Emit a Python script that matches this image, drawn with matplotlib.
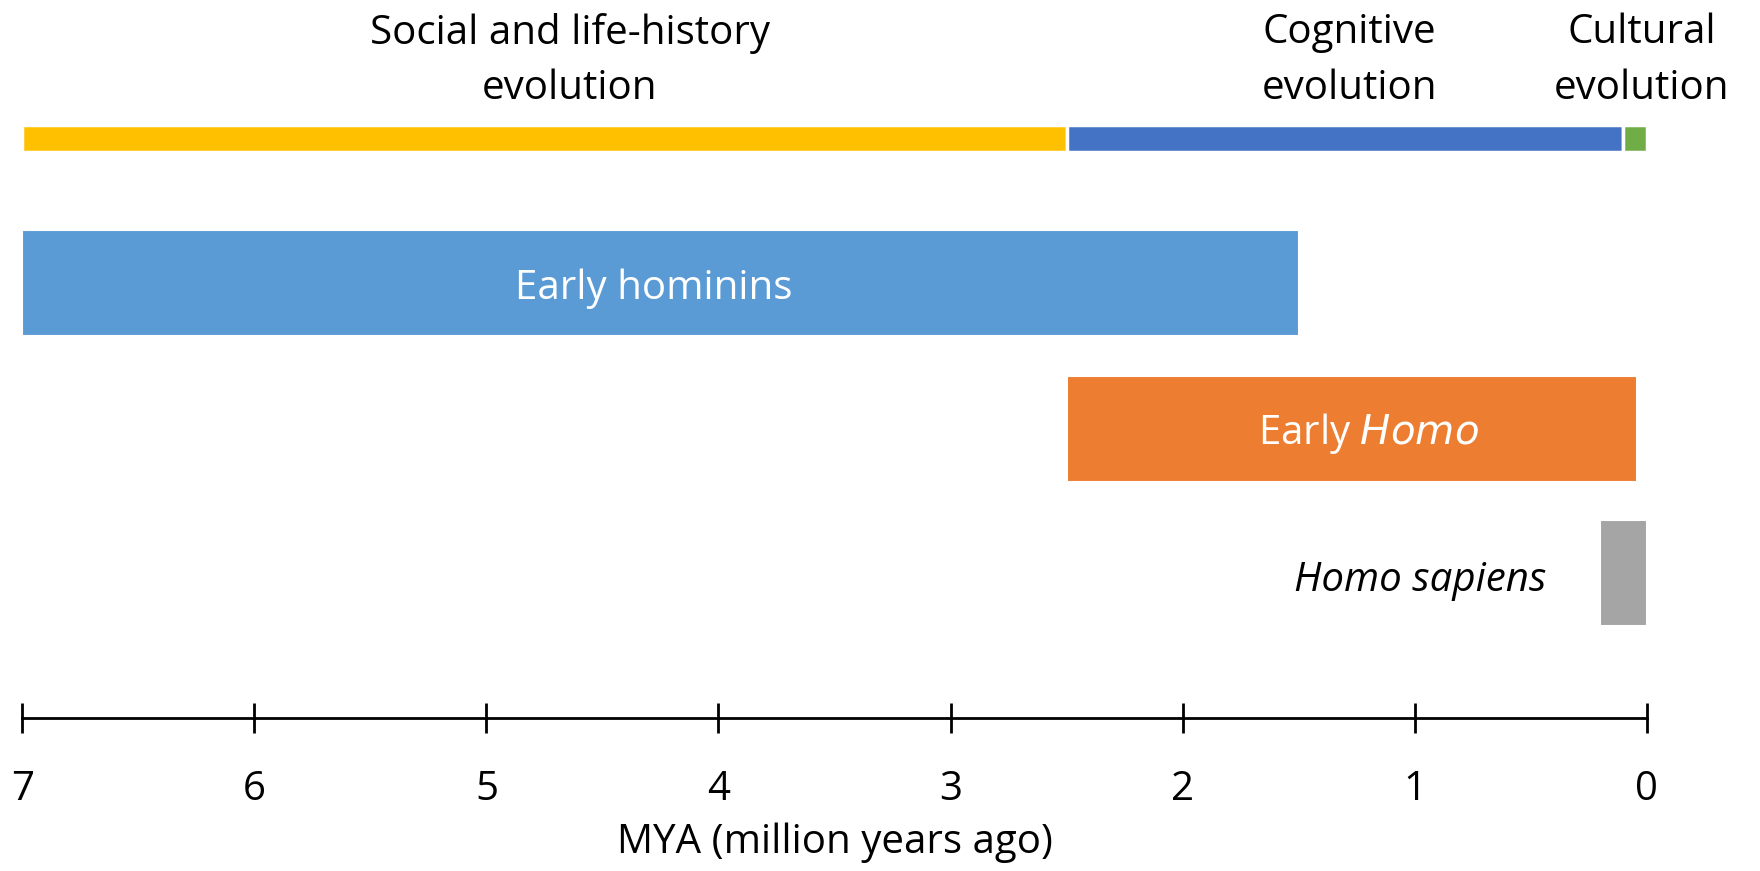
import matplotlib
matplotlib.use("Agg")
import matplotlib.pyplot as plt

plt.rcParams['font.family'] = ['Open Sans', 'DejaVu Sans']

# Top phase bars (start, end in MYA)
phase_labels = ["Social and life-history\nevolution", "Cognitive\nevolution", "Cultural\nevolution"]
phase_start = [7.0, 2.5, 0.1]
phase_end = [2.5, 0.1, 0.0]
phase_colors = ["#FFC000", "#4472C4", "#70AD47"]
phase_label_x = [4.64, 1.28, 0.02]

# Hominin groups
group_labels = ["Early hominins", "Early Homo", "Homo sapiens"]
group_start = [7.0, 2.5, 0.2]
group_end = [1.5, 0.04, 0.0]
group_colors = ["#5B9BD5", "#ED7D31", "#A5A5A5"]

ticks = [7, 6, 5, 4, 3, 2, 1, 0]
xlabel = "MYA (million years ago)"

FS = 29
W, H = 1760, 871
fig = plt.figure(figsize=(W / 100, H / 100), dpi=100)
ax = fig.add_axes([22.4 / W, 0, (1646.6 - 22.4) / W, 1])
ax.set_xlim(7, 0)
ax.set_ylim(H, 0)

# phase bars
phase_y, phase_h = 139, 27
for s, e, c in zip(phase_start, phase_end, phase_colors):
    ax.barh(phase_y, e - s, left=s, height=phase_h, color=c,
            edgecolor="white", linewidth=2.5)
for lab, x in zip(phase_labels, phase_label_x):
    ax.text(x, 61, lab, ha="center", va="center", fontsize=FS,
            color="black", linespacing=1.5)

# group bars
group_y = [283, 429, 573]
group_h = 106
for s, e, c, y in zip(group_start, group_end, group_colors, group_y):
    ax.barh(y, e - s, left=s, height=group_h, color=c,
            edgecolor="white", linewidth=1.5)

ax.text(4.28, group_y[0] + 6, group_labels[0], ha="center", va="center",
        fontsize=FS, color="white")
ax.text(1.20, group_y[1] + 4, "Early $\\it{Homo}$", ha="center", va="center",
        fontsize=FS, color="white")
ax.text(0.43, group_y[2] + 8, group_labels[2], ha="right", va="center",
        fontsize=FS, color="black", style="italic")

# axis
for sp in ["top", "left", "right"]:
    ax.spines[sp].set_visible(False)
ax.spines["bottom"].set_position(("data", 717.7))
ax.spines["bottom"].set_linewidth(2)
ax.set_yticks([])
ax.set_xticks(ticks)
ax.set_xticklabels([str(t) for t in ticks])
ax.tick_params(axis="x", direction="inout", length=22, width=2,
               labelsize=FS, pad=26)
ax.text(3.5, 843, xlabel, ha="center", va="center", fontsize=FS)

fig.savefig("out.png", dpi=100)
